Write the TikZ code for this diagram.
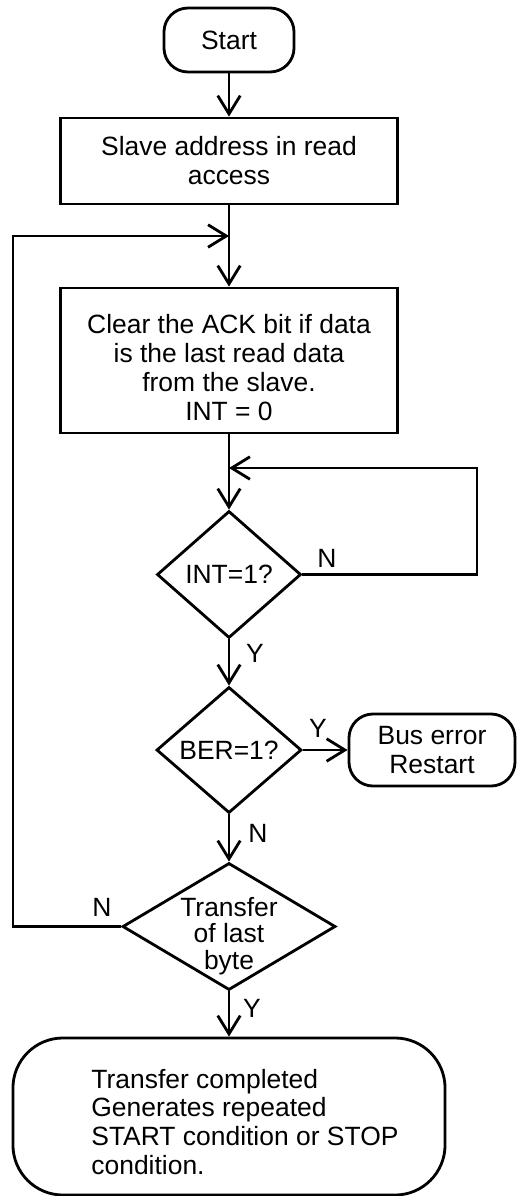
\documentclass[tikz,border=0pt]{standalone}
\usepackage{fontspec}
\setmainfont{Liberation Sans}
\usetikzlibrary{shapes.geometric,arrows.meta}

\begin{document}
\begin{tikzpicture}[x=0.025cm, y=-0.025cm, line width=2pt,
    font=\fontsize{18.8pt}{20.6pt}\selectfont,
    arr/.style={-{Straight Barb[length=13pt,width=16pt]}},
    term/.style={draw, rounded corners=0.6cm, align=center},
    proc/.style={draw, align=center, minimum width=8.425cm},
    dec/.style={draw, diamond, inner sep=0pt, align=center}]
    \useasboundingbox (0,0) rectangle (516,1196);
                    % Nodes
                    \node[term, minimum width=3.25cm, minimum height=1.6cm] (start) at (229,40) {Start};
                    \node[proc, minimum height=2.15cm] (addr) at (229,161) {Slave address in read\\access};
                    \node[proc, minimum height=3.625cm] (clear) at (229,360.5) {\rule{0pt}{23.5pt}Clear the ACK bit if data\\is the last read data\\from the slave.\\INT = 0};
                    \node[dec, minimum width=3.6cm, minimum height=3.175cm] (int) at (229,574.5) {INT=1?};
                    \node[dec, minimum width=3.625cm, minimum height=3.15cm] (ber) at (229,750) {BER=1?};
                    \node[term, minimum width=4.15cm, minimum height=1.8cm] (bus) at (432,750) {Bus error\\Restart};
                    \node[dec, aspect=1.68, inner sep=-8pt, minimum width=5.325cm, minimum height=3.175cm, font=\fontsize{18.8pt}{19pt}\selectfont] (last) at (229,926.5) {\rule{0pt}{27pt}Transfer\\of last\\byte};
                    \node[draw, rounded corners=1.25cm, minimum width=10.8cm, minimum height=3.925cm] (done) at (229,1116.5) {};
                    \node[anchor=west, align=left, inner sep=0pt] (donetext) at (90,1122) {Transfer completed\\Generates repeated\\START condition or STOP\\condition.};
                    \coordinate (j1) at (229,236);
                    \coordinate (j2) at (229,468);
                    \coordinate (back) at (13,236);
                    \coordinate (intback) at (477,468);
                    % Labels
                    \node (nint) at (327,558) {N};
                    \node (yint) at (255,653) {Y};
                    \node (yber) at (318,728) {Y};
                    \node (nber) at (258,833) {N};
                    \node (nlast) at (102,907) {N};
                    \node (ylast) at (252,1008) {Y};
                    % Edges
                    \draw[arr] (start) -- (addr);
                    \draw[arr] (addr) -- (clear);
                    \draw[arr] (clear) -- (int);
                    \draw[arr] (int) -- (ber);
                    \draw[arr] (ber) -- (bus);
                    \draw[arr] (ber) -- (last);
                    \draw[arr] (last) -- (done);
                    \draw[arr] (int.east) -| (intback) -- (j2);
                    \draw[arr] (last.west) -| (back) -- (j1);
                \end{tikzpicture}
\end{document}
